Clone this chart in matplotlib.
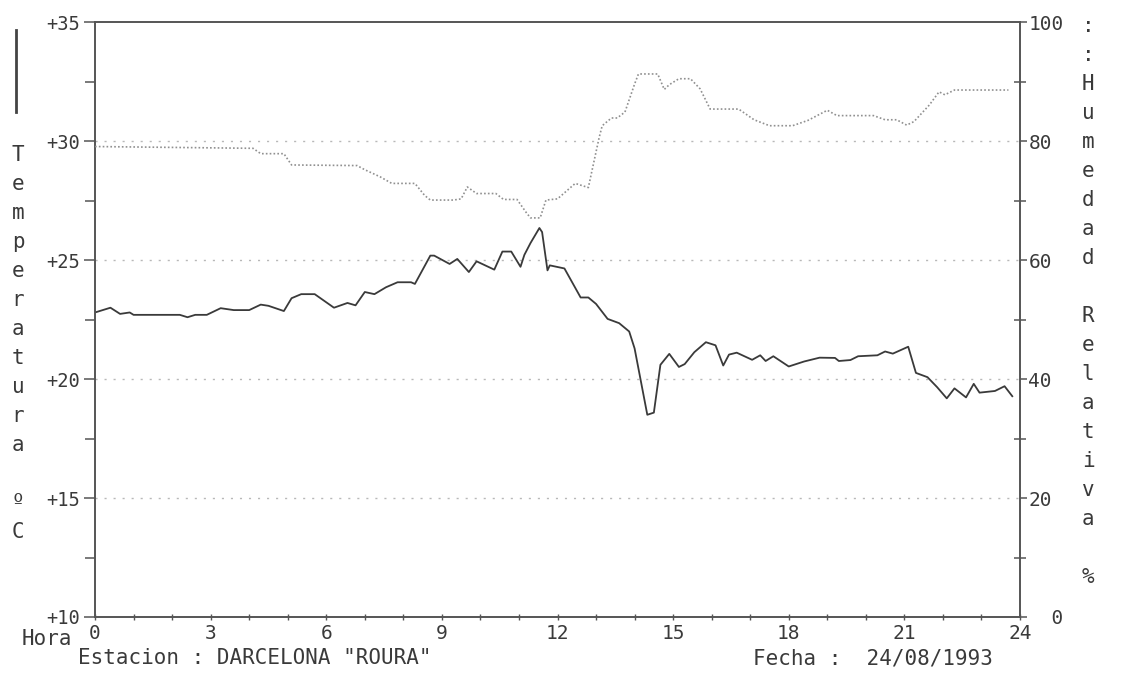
import numpy as np
import matplotlib
matplotlib.use("Agg")
import matplotlib.pyplot as plt
from matplotlib.lines import Line2D

plt.rcParams['font.family'] = ['DejaVu Sans Mono']

# temperatura (linea continua), hora -> grados C
hours_t = [0.0, 0.4, 0.65, 0.9, 1.0, 2.2, 2.4, 2.6, 2.9, 3.26, 3.6, 4.0, 4.3, 4.5, 4.9,
           5.1, 5.35, 5.7, 6.2, 6.55, 6.76, 7.0, 7.25, 7.55, 7.85, 8.2, 8.3, 8.7, 8.8,
           9.2, 9.4, 9.7, 9.9, 10.36, 10.57, 10.8, 11.04, 11.14, 11.3, 11.53, 11.6,
           11.74, 11.8, 12.18, 12.6, 12.8, 13.0, 13.3, 13.6, 13.86, 14.0, 14.33, 14.5,
           14.67, 14.9, 15.15, 15.3, 15.55, 15.85, 16.1, 16.3, 16.45, 16.65, 17.05,
           17.26, 17.4, 17.6, 18.0, 18.4, 18.8, 19.2, 19.3, 19.6, 19.8, 20.3, 20.5,
           20.7, 21.1, 21.3, 21.6, 21.85, 22.1, 22.3, 22.6, 22.8, 22.95, 23.35, 23.6, 23.8]
temp = [22.8, 23.0, 22.74, 22.8, 22.7, 22.7, 22.6, 22.7, 22.7, 22.98, 22.9, 22.9, 23.13,
        23.08, 22.86, 23.4, 23.57, 23.57, 23.0, 23.2, 23.1, 23.66, 23.57, 23.86, 24.07,
        24.07, 24.0, 25.19, 25.19, 24.84, 25.05, 24.5, 24.95, 24.6, 25.36, 25.36, 24.72,
        25.22, 25.72, 26.35, 26.18, 24.57, 24.78, 24.65, 23.43, 23.43, 23.16, 22.53,
        22.35, 22.0, 21.29, 18.5, 18.59, 20.6, 21.06, 20.51, 20.63, 21.13, 21.55, 21.42,
        20.57, 21.03, 21.11, 20.81, 21.0, 20.76, 20.96, 20.53, 20.74, 20.9, 20.89, 20.76,
        20.8, 20.96, 21.0, 21.16, 21.07, 21.36, 20.26, 20.08, 19.66, 19.19, 19.61, 19.23,
        19.8, 19.43, 19.5, 19.7, 19.28]

# humedad relativa (punteada), hora -> %
hours_h = [0.0, 4.1, 4.3, 4.9, 5.1, 6.8, 7.0, 7.4, 7.7, 8.3, 8.55, 8.7, 9.3, 9.5, 9.66,
           9.9, 10.4, 10.6, 10.95, 11.2, 11.3, 11.55, 11.7, 12.0, 12.46, 12.8, 12.95,
           13.08, 13.16, 13.4, 13.55, 13.75, 14.0, 14.1, 14.6, 14.77, 14.9, 15.15, 15.45,
           15.7, 15.96, 16.7, 17.1, 17.5, 18.1, 18.5, 19.0, 19.25, 20.2, 20.5, 20.8,
           21.06, 21.25, 21.65, 21.9, 22.05, 22.3, 23.7]
hum = [79.1, 78.8, 77.9, 77.9, 76.0, 75.9, 75.2, 74.0, 72.9, 72.9, 70.9, 70.1, 70.1, 70.3,
       72.3, 71.2, 71.2, 70.2, 70.2, 67.9, 67.1, 67.1, 70.1, 70.3, 72.9, 72.2, 76.7, 80.6,
       82.6, 83.9, 83.9, 84.9, 89.6, 91.3, 91.3, 88.7, 89.5, 90.5, 90.5, 88.8, 85.4, 85.4,
       83.6, 82.6, 82.6, 83.5, 85.2, 84.3, 84.3, 83.6, 83.6, 82.7, 83.3, 86.1, 88.3, 87.8,
       88.6, 88.6]

t_ticks = [10, 15, 20, 25, 30, 35]
t_labels = ['+10', '+15', '+20', '+25', '+30', '+35']
h_ticks = [0, 20, 40, 60, 80, 100]
h_labels = ['  0', '20', '40', '60', '80', '100']
x_ticks = [0, 3, 6, 9, 12, 15, 18, 21, 24]

ink = '#3a3a3a'

fig = plt.figure(figsize=(11.38, 6.86), dpi=100)
ax = fig.add_axes([0.0835, 0.1006, 0.8128, 0.867])
ax2 = ax.twinx()

ax.set_xlim(0, 24)
ax.set_ylim(10, 35)
ax2.set_ylim(0, 100)

# lineas de referencia punteadas
for g in [15, 20, 25, 30]:
    ax.axhline(g, color='#b8b8b8', lw=1.0, linestyle=(0, (1.5, 5)), zorder=1)

ax.plot(hours_t, temp, color=ink, lw=1.3, zorder=3)
ax2.plot(hours_h, hum, color='#909090', lw=1.2, linestyle=(0, (1, 1.3)), zorder=3)

for a in (ax, ax2):
    for s in a.spines.values():
        s.set_color('#555555')
        s.set_linewidth(1.2)

ax.set_xticks(x_ticks)
ax.set_xticks(range(25), minor=True)
ax.set_yticks(t_ticks)
ax.set_yticklabels(t_labels)
ax.set_yticks([12.5, 17.5, 22.5, 27.5, 32.5], minor=True)
ax.tick_params(axis='y', which='major', direction='out', length=8, width=1.1,
               color='#555555', labelsize=13.5, labelcolor=ink, pad=3)
ax.tick_params(axis='y', which='minor', direction='out', length=7, width=1.1, color='#555555')
ax.tick_params(axis='x', which='both', direction='inout', length=4, width=1.0,
               color='#555555', labelsize=14, labelcolor=ink, pad=3)

ax2.set_yticks(h_ticks)
ax2.set_yticklabels(h_labels)
ax2.set_yticks([10, 30, 50, 70, 90], minor=True)
ax2.tick_params(axis='y', which='major', direction='out', length=5, width=1.1,
                color='#555555', labelsize=14, labelcolor=ink, pad=1)
ax2.tick_params(axis='y', which='minor', direction='inout', length=8, width=1.1, color='#555555')

# textos
fig.text(22 / 1138, 1 - 639 / 686, 'Hora', fontsize=15, color=ink, va='center', ha='left')
fig.text(78 / 1138, 1 - 658 / 686, 'Estacion : DARCELONA "ROURA"', fontsize=15, color=ink,
         va='center', ha='left')
fig.text(753 / 1138, 1 - 659 / 686, 'Fecha :  24/08/1993', fontsize=15, color=ink,
         va='center', ha='left')

for i, ch in enumerate('Temperatura ºC'):
    fig.text(18 / 1138, 1 - (155 + 29 * i) / 686, ch, fontsize=15, color=ink,
             ha='center', va='center')
for i, ch in enumerate('::Humedad Relativa %'):
    fig.text(1088 / 1138, 1 - (26 + 29 * i) / 686, ch, fontsize=15, color=ink,
             ha='center', va='center')

# barra vertical arriba a la izquierda
fig.add_artist(Line2D([16 / 1138, 16 / 1138], [1 - 30 / 686, 1 - 112 / 686],
                      color='#444444', lw=2.0))

fig.savefig('out.png', dpi=100, facecolor='white')
